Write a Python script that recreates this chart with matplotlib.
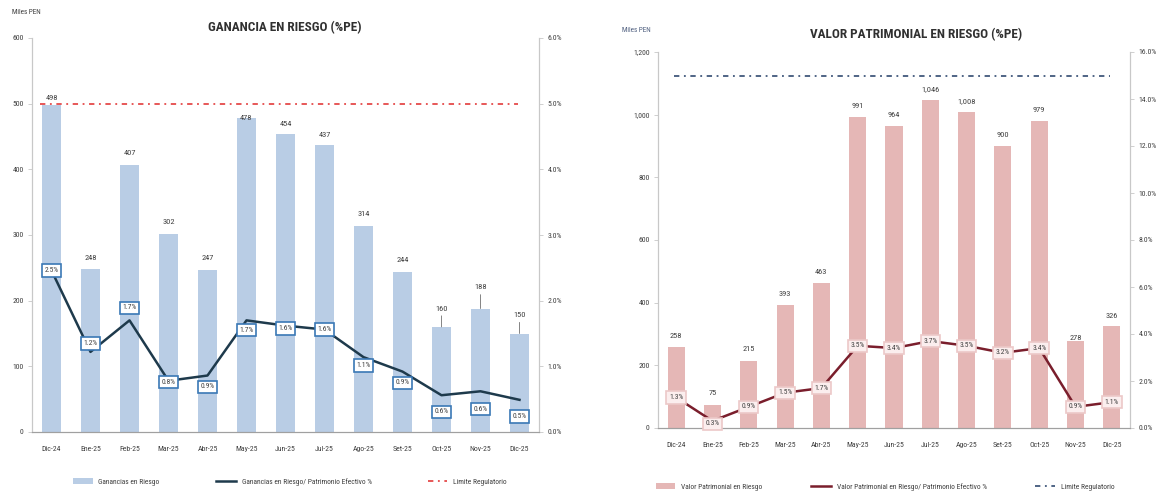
import matplotlib
matplotlib.use("Agg")
import matplotlib.pyplot as plt
from matplotlib.patches import Patch
from matplotlib.lines import Line2D
from matplotlib.ticker import FuncFormatter, MultipleLocator
from matplotlib import font_manager

# prefer a narrow sans face when one is available
_names = {f.name for f in font_manager.fontManager.ttflist}
_narrow = [n for n in ("Liberation Sans Narrow", "Roboto Condensed", "Open Sans Condensed")
           if n in _names]
plt.rcParams['font.family'] = _narrow + ['DejaVu Sans']
plt.rcParams['font.stretch'] = 'condensed'

# ---- data ----
months = ["Dic-24", "Ene-25", "Feb-25", "Mar-25", "Abr-25", "May-25", "Jun-25",
          "Jul-25", "Ago-25", "Set-25", "Oct-25", "Nov-25", "Dic-25"]

ganancia_riesgo = [498, 248, 407, 302, 247, 478, 454, 437, 314, 244, 160, 188, 150]
ganancia_pct = [2.46, 1.22, 1.70, 0.78, 0.86, 1.70, 1.62, 1.56, 1.14, 0.92, 0.56, 0.62, 0.49]
ganancia_limite = 5.0

valor_riesgo = [258, 75, 215, 393, 463, 991, 964, 1046, 1008, 900, 979, 278, 326]
valor_pct = [1.3, 0.3, 0.9, 1.5, 1.7, 3.5, 3.4, 3.7, 3.5, 3.2, 3.4, 0.9, 1.1]
valor_limite = 15.0

# ---- styling ----
TXT = "#404040"
FS_TICK = 5.6
W, H = 1160, 495
DASHDOT = (0, (3.5, 3, 1.2, 3))

fig = plt.figure(figsize=(W / 100, H / 100), dpi=100)


def box(px_left, px_top, px_right, px_bottom):
    return [px_left / W, 1 - px_bottom / H, (px_right - px_left) / W, (px_bottom - px_top) / H]


def style_axes(ax, ax2, ymax, ystep, pmax, pstep, yfmt):
    ax.set_ylim(0, ymax)
    ax2.set_ylim(0, pmax)
    ax.set_xlim(-0.5, len(months) - 0.5)
    ax.yaxis.set_major_locator(MultipleLocator(ystep))
    ax2.yaxis.set_major_locator(MultipleLocator(pstep))
    ax.yaxis.set_major_formatter(FuncFormatter(yfmt))
    ax2.yaxis.set_major_formatter(FuncFormatter(lambda v, p: f"{v:.1f}%"))
    ax.set_xticks(range(len(months)))
    ax.set_xticklabels(months)
    for a in (ax, ax2):
        a.spines['top'].set_visible(False)
        a.spines['left'].set_color("#c8c8c8")
        a.spines['right'].set_color("#c8c8c8")
        a.spines['bottom'].set_color("#a0a0a0")
        a.tick_params(axis='y', labelsize=FS_TICK, colors=TXT, length=3, width=0.6,
                      color="#c8c8c8", pad=3)
    ax.tick_params(axis='x', labelsize=FS_TICK, colors=TXT, length=0, pad=10)


def draw_panel(rect, bars, pct, limit, lim_span, bar_color, line_color, lim_color,
               box_face, box_edge, ymax, ystep, pmax, pstep, yfmt,
               pct_offsets, bar_offsets, leaders):
    ax = fig.add_axes(rect)
    ax2 = ax.twinx()
    x = list(range(len(months)))
    ax.bar(x, bars, width=0.47, color=bar_color, zorder=2)
    ax2.plot(lim_span, [limit, limit], color=lim_color,
             linestyle=DASHDOT, linewidth=1.1, zorder=3)
    ax2.plot(x, pct, color=line_color, linewidth=1.8, zorder=4)
    for i, v in enumerate(bars):
        kw = dict(xy=(i, v), xytext=(0, bar_offsets[i]), textcoords="offset points",
                  ha="center", va="bottom", fontsize=6, color=TXT, zorder=6)
        if i in leaders:
            kw["arrowprops"] = dict(arrowstyle="-", color="#707070", lw=0.6,
                                    shrinkA=1, shrinkB=0)
        ax.annotate(f"{v:,}", **kw)
    for i, v in enumerate(pct):
        ax2.annotate(f"{v:.1f}%", xy=(i, v), xytext=(0, pct_offsets[i]),
                     textcoords="offset points", ha="center", va="center",
                     fontsize=5.4, color=TXT, zorder=7,
                     bbox=dict(boxstyle="square,pad=0.35", fc=box_face, ec=box_edge, lw=1.2))
    style_axes(ax, ax2, ymax, ystep, pmax, pstep, yfmt)
    return ax, ax2


# left panel: Ganancia en Riesgo
gan_pct_off = [0, 6, 9, -1, -8, -7, -2, 0, -6, -8, -12, -13, -12]
gan_bar_off = [3, 6, 6, 6, 6, -2, 5, 5, 6, 6, 11, 13, 11]
draw_panel(box(32, 38, 539, 432), ganancia_riesgo, ganancia_pct, ganancia_limite,
           (-0.3, 11.95), "#b9cde5", "#1e3a4c", "#e02a2a", "white", "#3a78b5",
           600, 100, 6.0, 1.0, lambda v, p: f"{v:,.0f}",
           gan_pct_off, gan_bar_off, leaders={10, 11, 12})

# right panel: Valor Patrimonial en Riesgo
val_pct_off = [0, -2, 0, 0, 0, 0, 0, 0, 0, 0, 0, 0, 0]
val_bar_off = [6, 6, 6, 6, 6, 6, 6, 6, 6, 6, 6, 0, 5]
draw_panel(box(658, 52, 1130, 428), valor_riesgo, valor_pct, valor_limite,
           (-0.05, 11.95), "#e5b7b6", "#7a1e2c", "#1f3a64", "#fbeeee", "#ecc8c8",
           1200, 200, 16.0, 2.0, lambda v, p: f"{v:,.0f}",
           val_pct_off, val_bar_off, leaders=set())

# titles and unit labels
fig.text(285 / W, 1 - 28 / H, "GANANCIA EN RIESGO (%PE)", ha="center", va="center",
         fontsize=9.5, fontweight="bold", color="#303030")
fig.text(916 / W, 1 - 35 / H, "VALOR PATRIMONIAL EN RIESGO (%PE)", ha="center", va="center",
         fontsize=9.5, fontweight="bold", color="#303030")
fig.text(12 / W, 1 - 13 / H, "Miles PEN", ha="left", va="center", fontsize=5.2, color=TXT)
fig.text(622 / W, 1 - 30 / H, "Miles PEN", ha="left", va="center", fontsize=5.2, color="#506080")


# legends
def legend(cx, cy, bar_color, line_color, lim_color, bar_lbl, line_lbl, spacing):
    handles = [Patch(facecolor=bar_color, edgecolor="none"),
               Line2D([], [], color=line_color, lw=1.8),
               Line2D([], [], color=lim_color, lw=1.1, linestyle=DASHDOT)]
    fig.legend(handles, [bar_lbl, line_lbl, "Limite Regulatorio"], loc="center",
               bbox_to_anchor=(cx / W, 1 - cy / H), ncol=3, frameon=False,
               fontsize=5.4, handlelength=2.6, handleheight=0.8, columnspacing=spacing,
               labelcolor=TXT)


legend(290, 482, "#b9cde5", "#1e3a4c", "#e02a2a", "Ganancias en Riesgo",
       "Ganancias en Riesgo/ Patrimonio Efectivo %", 7.5)
legend(885, 487, "#e5b7b6", "#7a1e2c", "#1f3a64", "Valor Patrimonial en Riesgo",
       "Valor Patrimonial en Riesgo/ Patrimonio Efectivo %", 6.5)

fig.savefig("out.png", dpi=100)
